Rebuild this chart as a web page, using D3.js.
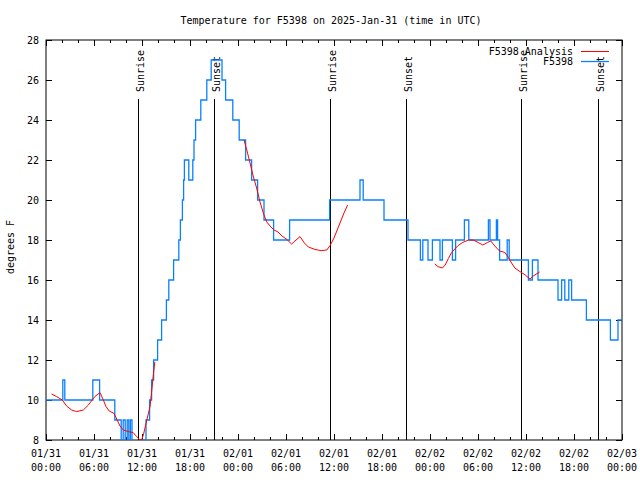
<!DOCTYPE html>
<html><head><meta charset="utf-8">
<script src="https://cdn.jsdelivr.net/npm/d3@7"></script>
<style>
body{margin:0;background:#fff}
text{font-family:"DejaVu Sans Mono","Liberation Mono",monospace;font-size:10px;fill:#000}
</style>
</head><body>
<svg id="chart" width="640" height="480"></svg>
<script>
// ---------- data ----------
const titleText = "Temperature for F5398 on 2025-Jan-31 (time in UTC)";
const yAxisLabel = "degrees F";
const startUTC = Date.UTC(2025, 0, 31, 0, 0);
const spanHours = 72;
const xTickHours = [0, 6, 12, 18, 24, 30, 36, 42, 48, 54, 60, 66, 72];
const xMinorStepHours = 2;
const yTicks = [8, 10, 12, 14, 16, 18, 20, 22, 24, 26, 28];
const yDomain = [8, 28];
const sunHours = [11.54, 21.04, 35.5, 45.04, 59.4, 69.04];
const sunNames = ["Sunrise", "Sunset", "Sunrise", "Sunset", "Sunrise", "Sunset"];
const seriesNames = ["F5398 Analysis", "F5398"];

// observed F5398 (hours after start, degrees F) - change points
const obsHours = [0, 2.1, 2.35, 5.85, 6.7, 8.6, 9.4, 9.65, 9.9, 10.15, 10.35, 10.55, 10.75, 11.95,
  12.5, 12.95, 13.2, 13.45, 13.95, 14.45, 15.05, 15.35, 15.95, 16.6, 16.8, 17.05, 17.2, 17.3,
  17.85, 18.35, 18.5, 18.7, 19.35, 20.1, 20.65, 22.0, 22.45, 23.35, 24.15, 24.95, 25.7, 26.45,
  27.25, 28.45, 30.45, 35.45, 39.25, 39.65, 42.25, 45.25, 46.8, 47.1, 47.75, 48.3, 49.25, 49.55,
  50.8, 51.2, 52.3, 52.85, 55.3, 55.5, 56.3, 56.45, 56.7, 57.65, 57.9, 60.3, 60.8, 61.5, 64.0,
  64.45, 64.85, 65.35, 65.7, 67.55, 70.55, 71.5, 72];
const obsTemps = [10, 11, 10, 11, 10, 9, 7, 9, 7, 9, 7, 9, 7, 8,
  9, 10, 11, 12, 13, 14, 15, 16, 17, 18, 19, 20, 21, 22,
  21, 22, 23, 24, 25, 26, 27, 26, 25, 24, 23, 22, 21, 20,
  19, 18, 19, 20, 21, 20, 19, 18, 17, 18, 17, 18, 17, 18,
  17, 18, 19, 18, 19, 18, 19, 18, 17, 18, 17, 16, 17, 16, 15,
  16, 15, 16, 15, 14, 13, 14, 14];

// analysis (null separates segments)
const anaHours = [0.7, 1.33, 2.04, 2.58, 3.2, 3.83, 4.67, 5.3, 6.1, 6.75, 7.17, 7.5, 7.9, 8.5, 8.9,
  9.25, 9.67, 10.3, 10.9, 11.33, 11.7, 11.95, 12.2, 12.6, 13.0, 13.2, 13.4, 13.6,
  null,
  24.75, 25.1, 25.5, 25.9, 26.33, 26.75, 27.2, 27.6, 28.0, 28.5, 29.0, 29.5, 30.1, 30.7, 31.25,
  31.75, 32.3, 32.8, 33.6, 34.4, 35.1, 35.5, 36.0, 36.4, 36.8, 37.25, 37.7,
  null,
  48.6, 49.0, 49.55, 49.9, 50.3, 50.7, 51.1, 51.5, 52.1, 52.8, 53.4, 54.0, 54.6, 55.2, 55.6,
  56.1, 56.7, 57.35, 57.8, 58.2, 58.6, 59.25, 59.9, 60.5, 60.9, 61.7];
const anaTemps = [10.3, 10.17, 10.0, 9.7, 9.5, 9.42, 9.5, 9.75, 10.17, 10.37, 10.0, 9.67, 9.45, 9.33, 9.0,
  8.7, 8.5, 8.42, 8.37, 8.17, 8.03, 8.0, 8.3, 9.0, 9.67, 10.4, 11.2, 11.9,
  null,
  23.0, 22.5, 21.85, 21.2, 20.6, 19.9, 19.3, 18.9, 18.7, 18.5, 18.4, 18.2, 18.03, 17.8, 18.0,
  18.17, 17.85, 17.65, 17.53, 17.47, 17.5, 17.72, 18.1, 18.5, 18.9, 19.35, 19.75,
  null,
  16.8, 16.67, 16.6, 16.75, 17.08, 17.37, 17.55, 17.72, 17.88, 18.0, 18.0, 17.88, 17.75, 17.88, 17.95,
  17.7, 17.45, 17.38, 17.13, 16.85, 16.6, 16.42, 16.25, 16.05, 16.2, 16.4];

// ---------- chart ----------
const H = 3600 * 1000;
const toDate = h => new Date(startUTC + h * H);
const L = 46, R = 622, T = 40, B = 440;
const svg = d3.select("#chart");
const x = d3.scaleUtc().domain([toDate(0), toDate(spanHours)]).range([L, R]);
const y = d3.scaleLinear().domain(yDomain).range([B, T]);

svg.append("defs").append("clipPath").attr("id", "clip")
  .append("rect").attr("x", L).attr("y", T).attr("width", R - L).attr("height", B - T);

// title
svg.append("text").attr("x", 331).attr("y", 24).attr("text-anchor", "middle").text(titleText);

// y label
svg.append("text").attr("transform", "translate(14,247) rotate(-90)")
  .attr("text-anchor", "middle").text(yAxisLabel);

// axes
const minorDates = d3.range(0, spanHours + 0.001, xMinorStepHours).filter(h => h % 6 !== 0).map(toDate);
const majorDates = xTickHours.map(toDate);
const fmtD = d3.utcFormat("%m/%d"), fmtT = d3.utcFormat("%H:%M");

function xAxisG(axis, ty) {
  const g = svg.append("g").attr("transform", `translate(0,${ty})`).call(axis);
  g.select(".domain").remove();
  g.selectAll("line").attr("stroke", "#000");
  return g;
}
const xb = xAxisG(d3.axisBottom(x).tickValues(majorDates).tickSize(-6).tickFormat(() => ""), B);
xAxisG(d3.axisBottom(x).tickValues(minorDates).tickSize(-3).tickFormat(() => ""), B);
xAxisG(d3.axisTop(x).tickValues(majorDates).tickSize(-6).tickFormat(() => ""), T);
xAxisG(d3.axisTop(x).tickValues(minorDates).tickSize(-3).tickFormat(() => ""), T);

// x labels (two lines)
const xl = svg.append("g");
majorDates.forEach(d => {
  const t = xl.append("text").attr("x", x(d)).attr("text-anchor", "middle");
  t.append("tspan").attr("x", x(d)).attr("y", 457).text(fmtD(d));
  t.append("tspan").attr("x", x(d)).attr("y", 471).text(fmtT(d));
});

const yl = svg.append("g").attr("transform", `translate(${L},0)`)
  .call(d3.axisLeft(y).tickValues(yTicks).tickSize(-6).tickPadding(10).tickFormat(d3.format("d")));
yl.select(".domain").remove();
yl.selectAll("line").attr("stroke", "#000");
yl.selectAll("text").attr("font-size", null).attr("font-family", null).attr("x", -7);
const yr = svg.append("g").attr("transform", `translate(${R},0)`)
  .call(d3.axisRight(y).tickValues(yTicks).tickSize(-6).tickFormat(() => ""));
yr.select(".domain").remove();
yr.selectAll("line").attr("stroke", "#000");
xb.selectAll("text").remove();

// border
svg.append("rect").attr("x", L).attr("y", T).attr("width", R - L).attr("height", B - T)
  .attr("fill", "none").attr("stroke", "#000").attr("stroke-width", 1);

// sunrise / sunset lines
sunHours.forEach((h, i) => {
  const px = Math.round(x(toDate(h))) + 0.5;
  svg.append("line").attr("x1", px).attr("x2", px).attr("y1", 99).attr("y2", B)
    .attr("stroke", "#000").attr("stroke-width", 1);
  svg.append("text").attr("transform", `translate(${px + 5.5},92) rotate(-90)`)
    .attr("text-anchor", "start").text(sunNames[i]);
});

// data lines
const obs = obsHours.map((h, i) => ({ d: toDate(h), v: obsTemps[i] }));
const ana = anaHours.map((h, i) => ({ d: h == null ? null : toDate(h), v: anaTemps[i] }));

const plot = svg.append("g").attr("clip-path", "url(#clip)");
plot.append("path").datum(obs)
  .attr("d", d3.line().x(p => x(p.d)).y(p => y(p.v)).curve(d3.curveStepAfter))
  .attr("fill", "none").attr("stroke", "#0a80ff").attr("stroke-width", 1.3);
plot.append("path").datum(ana)
  .attr("d", d3.line().defined(p => p.v != null).x(p => x(p.d)).y(p => y(p.v)))
  .attr("fill", "none").attr("stroke", "#ff0000").attr("stroke-width", 1);

// legend
const legColors = ["#ff0000", "#0a80ff"];
seriesNames.forEach((n, i) => {
  const cy = 51 + i * 10;
  svg.append("text").attr("x", 573).attr("y", cy + 3.5).attr("text-anchor", "end").text(n);
  svg.append("line").attr("x1", 581).attr("x2", 609).attr("y1", cy + 0.5).attr("y2", cy + 0.5)
    .attr("stroke", legColors[i]).attr("stroke-width", i ? 1.3 : 1);
});
</script>
</body></html>
